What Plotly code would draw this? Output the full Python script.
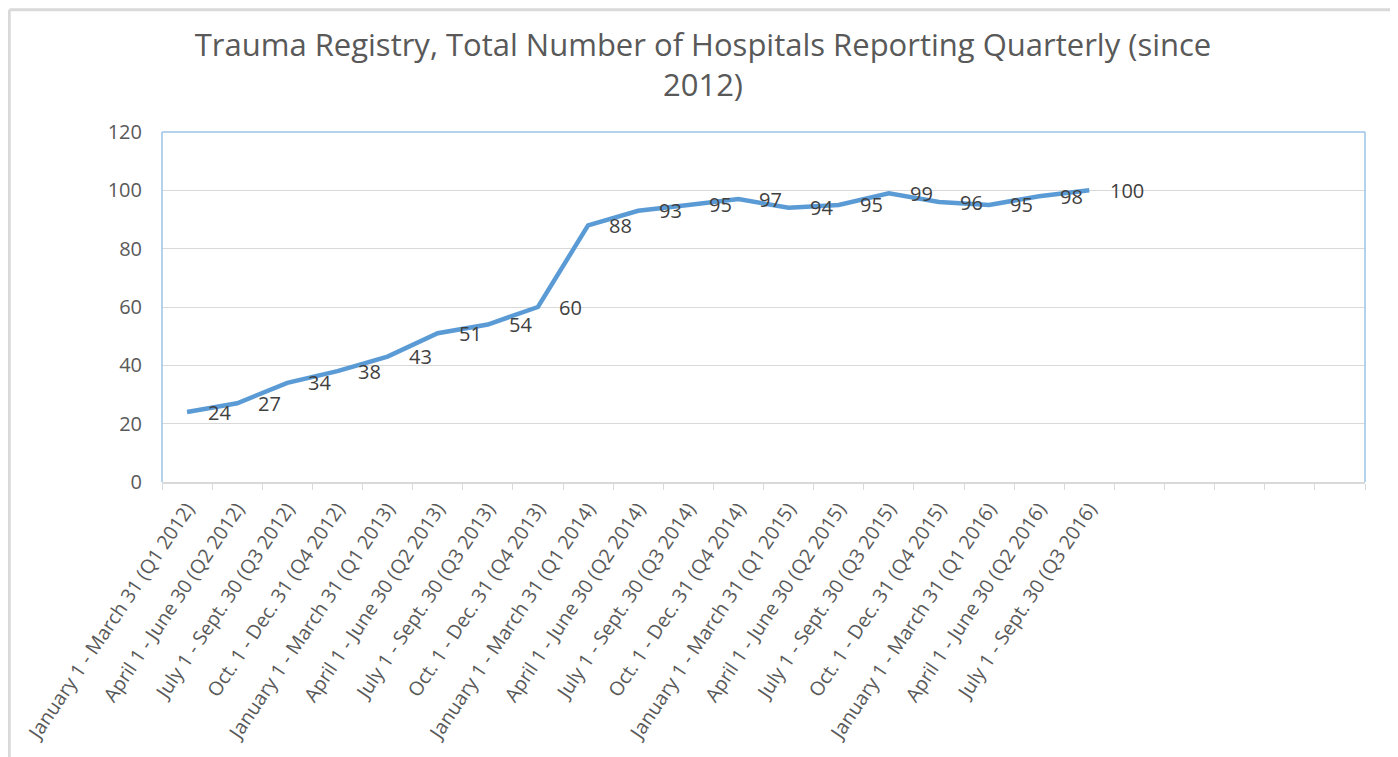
import plotly.graph_objects as go

quarters = [
    "January 1 - March 31 (Q1 2012)", "April 1 - June 30 (Q2 2012)", "July 1 - Sept. 30 (Q3 2012)",
    "Oct. 1 - Dec. 31 (Q4 2012)", "January 1 - March 31 (Q1 2013)", "April 1 - June 30 (Q2 2013)",
    "July 1 - Sept. 30 (Q3 2013)", "Oct. 1 - Dec. 31 (Q4 2013)", "January 1 - March 31 (Q1 2014)",
    "April 1 - June 30 (Q2 2014)", "July 1 - Sept. 30 (Q3 2014)", "Oct. 1 - Dec. 31 (Q4 2014)",
    "January 1 - March 31 (Q1 2015)", "April 1 - June 30 (Q2 2015)", "July 1 - Sept. 30 (Q3 2015)",
    "Oct. 1 - Dec. 31 (Q4 2015)", "January 1 - March 31 (Q1 2016)", "April 1 - June 30 (Q2 2016)",
    "July 1 - Sept. 30 (Q3 2016)",
]
hospitals = [24, 27, 34, 38, 43, 51, 54, 60, 88, 93, 95, 97, 94, 95, 99, 96, 95, 98, 100]
empty_slots = [" " * (i + 1) for i in range(5)]
all_categories = quarters + empty_slots

title_text = "Trauma Registry, Total Number of Hospitals Reporting Quarterly (since<br>2012)"

FONT = "Open Sans"
GRAY_TEXT = "#595959"
FRAME = "#D9D9D9"

fig = go.Figure()
fig.add_trace(go.Scatter(
    x=quarters, y=hospitals, mode="lines",
    line=dict(color="#5B9BD5", width=4.5),
    hoverinfo="x+y", showlegend=False,
))

annotations = [
    dict(x=q, y=v, xref="x", yref="y", text=str(v), showarrow=False,
         xanchor="left", yanchor="middle", xshift=19,
         font=dict(family=FONT, size=20, color="#404040"))
    for q, v in zip(quarters, hospitals)
]

fl, fr, ft, fb = -0.127, 1.0233, 1.349, -0.8

fig.update_layout(
    width=1390, height=749,
    margin=dict(l=154, r=33, t=124, b=273),
    paper_bgcolor="white", plot_bgcolor="white",
    title=dict(text=title_text, x=0.5, xanchor="center", xref="container",
               y=0.936, yanchor="middle", yref="container",
               font=dict(family=FONT, size=31, color=GRAY_TEXT)),
    font=dict(family=FONT, color=GRAY_TEXT),
    annotations=annotations,
    xaxis=dict(
        type="category", categoryorder="array", categoryarray=all_categories,
        range=[-0.5, len(all_categories) - 0.5],
        tickson="boundaries", ticks="outside", ticklen=6, tickcolor="#D9D9D9",
        showgrid=False, showline=True, linecolor="#D9D9D9", linewidth=1.5,
        tickangle=-56, tickfont=dict(family=FONT, size=19.5, color=GRAY_TEXT),
        ticklabelstandoff=6,
        zeroline=False,
    ),
    yaxis=dict(
        range=[0, 120], dtick=20, showgrid=True, gridcolor="#D9D9D9", gridwidth=1,
        zeroline=False, showline=False, ticks="",
        ticklabelstandoff=19,
        tickfont=dict(family=FONT, size=20, color=GRAY_TEXT),
    ),
    shapes=[
        dict(type="line", xref="paper", yref="paper", x0=0, x1=0, y0=0, y1=1,
             line=dict(color="#9DC3E6", width=1.5)),
        dict(type="line", xref="paper", yref="paper", x0=0, x1=1, y0=1, y1=1,
             line=dict(color="#9DC3E6", width=1.5)),
        dict(type="line", xref="paper", yref="paper", x0=1, x1=1, y0=0, y1=1,
             line=dict(color="#9DC3E6", width=1.5)),
        dict(type="line", xref="paper", yref="paper", x0=fl, x1=fl, y0=fb, y1=ft,
             line=dict(color=FRAME, width=3)),
        dict(type="line", xref="paper", yref="paper", x0=fl, x1=fr, y0=ft, y1=ft,
             line=dict(color=FRAME, width=3)),
        dict(type="line", xref="paper", yref="paper", x0=fr, x1=fr, y0=fb, y1=ft,
             line=dict(color=FRAME, width=3)),
    ],
)

fig.write_html("out.html")
